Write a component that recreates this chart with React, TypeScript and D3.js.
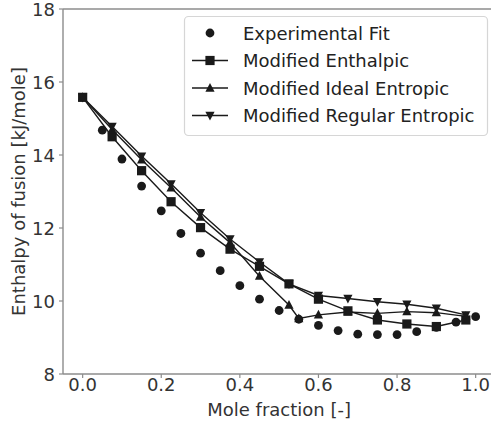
import React from "react";
import * as d3 from "d3";

// Mole fractions of the experimental fit and the model curves
const expX = [0.05, 0.1, 0.15, 0.2, 0.25, 0.3, 0.35, 0.4, 0.45, 0.5, 0.55, 0.6, 0.65, 0.7, 0.75, 0.8, 0.85, 0.9, 0.95, 1.0];
const expY = [14.68, 13.89, 13.15, 12.47, 11.85, 11.31, 10.83, 10.42, 10.05, 9.74, 9.5, 9.33, 9.19, 9.09, 9.08, 9.08, 9.16, 9.28, 9.42, 9.57];

const modelX = [0, 0.075, 0.15, 0.225, 0.3, 0.375, 0.45, 0.525, 0.6, 0.675, 0.75, 0.825, 0.9, 0.975];
const enthalpicY = [15.58, 14.5, 13.57, 12.72, 12.01, 11.42, 10.95, 10.47, 10.05, 9.73, 9.48, 9.37, 9.3, 9.48];
const idealX = [0, 0.075, 0.15, 0.225, 0.3, 0.375, 0.45, 0.525, 0.55, 0.6, 0.675, 0.75, 0.825, 0.9, 0.975];
const idealY = [15.58, 14.7, 13.87, 13.1, 12.3, 11.6, 10.68, 9.89, 9.52, 9.62, 9.7, 9.66, 9.71, 9.68, 9.58];
const regularY = [15.58, 14.78, 13.97, 13.21, 12.42, 11.7, 11.07, 10.47, 10.15, 10.07, 9.98, 9.91, 9.8, 9.62];

const xTicks = [0, 0.2, 0.4, 0.6, 0.8, 1.0];
const yTicks = [8, 10, 12, 14, 16, 18];

const legendLabels = ["Experimental Fit", "Modified Enthalpic", "Modified Ideal Entropic", "Modified Regular Entropic"];

const W = 491;
const H = 425;
const FONT = "DejaVu Sans, sans-serif";
const FS = 18;
const INK = "#1a1a1a";

type Marker = "circle" | "square" | "triUp" | "triDown";

function markerPath(kind: Marker, cx: number, cy: number): React.ReactElement {
  const s = 4.6;
  if (kind === "circle") return <circle cx={cx} cy={cy} r={4.4} fill={INK} />;
  if (kind === "square") return <rect x={cx - s} y={cy - s} width={2 * s} height={2 * s} fill={INK} />;
  if (kind === "triUp")
    return <path d={`M${cx},${cy - s * 1.1}L${cx + s},${cy + s * 0.8}L${cx - s},${cy + s * 0.8}Z`} fill={INK} />;
  return <path d={`M${cx},${cy + s * 1.1}L${cx + s},${cy - s * 0.8}L${cx - s},${cy - s * 0.8}Z`} fill={INK} />;
}

export default function App() {
  const left = 63;
  const top = 9;
  const bottom = 374;
  const x = d3.scaleLinear().domain([-0.05, 1.05]).range([left, left + 1.1 * 393]);
  const y = d3.scaleLinear().domain([8, 18]).range([bottom, top]);
  const right = x(1.05);

  const line = d3
    .line<[number, number]>()
    .x((d) => x(d[0]))
    .y((d) => y(d[1]));

  const series: { xs: number[]; ys: number[]; m: Marker }[] = [
    { xs: modelX, ys: enthalpicY, m: "square" },
    { xs: idealX, ys: idealY, m: "triUp" },
    { xs: modelX, ys: regularY, m: "triDown" },
  ];

  const legendMarkers: Marker[] = ["circle", "square", "triUp", "triDown"];
  const rowY = [33, 60.5, 88, 115.5];

  return (
    <svg
      width={W}
      height={H}
      style={{ position: "absolute", left: 0, top: 0, background: "#fff" }}
      fontFamily={FONT}
    >
      <rect width={W} height={H} fill="#fff" />
      {/* axes frame */}
      <g stroke="#8c8c8c" strokeWidth={1.4} fill="none">
        <line x1={left} y1={top} x2={right} y2={top} />
        <line x1={left} y1={bottom} x2={right} y2={bottom} />
        <line x1={left} y1={top} x2={left} y2={bottom} />
        <line x1={right} y1={top} x2={right} y2={bottom} />
      </g>
      {/* x ticks */}
      {xTicks.map((t) => (
        <g key={"x" + t}>
          <line x1={x(t)} x2={x(t)} y1={bottom} y2={bottom + 4} stroke="#8c8c8c" strokeWidth={1.2} />
          <text x={x(t)} y={bottom + 10} textAnchor="middle" dominantBaseline="central" fontSize={FS} fill="#333">
            {d3.format(".1f")(t)}
          </text>
        </g>
      ))}
      {/* y ticks */}
      {yTicks.map((t) => (
        <g key={"y" + t}>
          <line x1={left - 4} x2={left} y1={y(t)} y2={y(t)} stroke="#8c8c8c" strokeWidth={1.2} />
          <text x={left - 8} y={y(t)} textAnchor="end" dominantBaseline="central" fontSize={FS} fill="#333">
            {t}
          </text>
        </g>
      ))}
      <text x={(left + right) / 2} y={409} textAnchor="middle" dominantBaseline="central" fontSize={FS} fill="#333">
        Mole fraction [-]
      </text>
      <text
        transform={`translate(18,${(top + bottom) / 2}) rotate(-90)`}
        textAnchor="middle"
        dominantBaseline="central"
        fontSize={FS}
        fill="#333"
      >
        Enthalpy of fusion [kJ/mole]
      </text>

      {/* experimental fit */}
      {expX.map((v, i) => (
        <g key={"e" + i}>{markerPath("circle", x(v), y(expY[i]))}</g>
      ))}

      {/* model curves */}
      {series.map((s, si) => {
        const pts = s.xs.map((v, i) => [v, s.ys[i]] as [number, number]);
        return (
          <g key={"s" + si}>
            <path d={line(pts) || ""} fill="none" stroke={INK} strokeWidth={1.4} />
            {pts.map((p, i) => (
              <g key={i}>{markerPath(s.m, x(p[0]), y(p[1]))}</g>
            ))}
          </g>
        );
      })}

      {/* legend */}
      <rect x={184.5} y={16.5} width={303} height={119} rx={4} fill="#fff" fillOpacity={0.8} stroke="#d6d6d6" strokeWidth={1.2} />
      {legendLabels.map((lab, i) => (
        <g key={"l" + i}>
          {i > 0 && <line x1={192} x2={228} y1={rowY[i]} y2={rowY[i]} stroke={INK} strokeWidth={1.4} />}
          {markerPath(legendMarkers[i], 210, rowY[i])}
          <text x={243} y={rowY[i]} dominantBaseline="central" fontSize={FS} fill="#222">
            {lab}
          </text>
        </g>
      ))}
    </svg>
  );
}
